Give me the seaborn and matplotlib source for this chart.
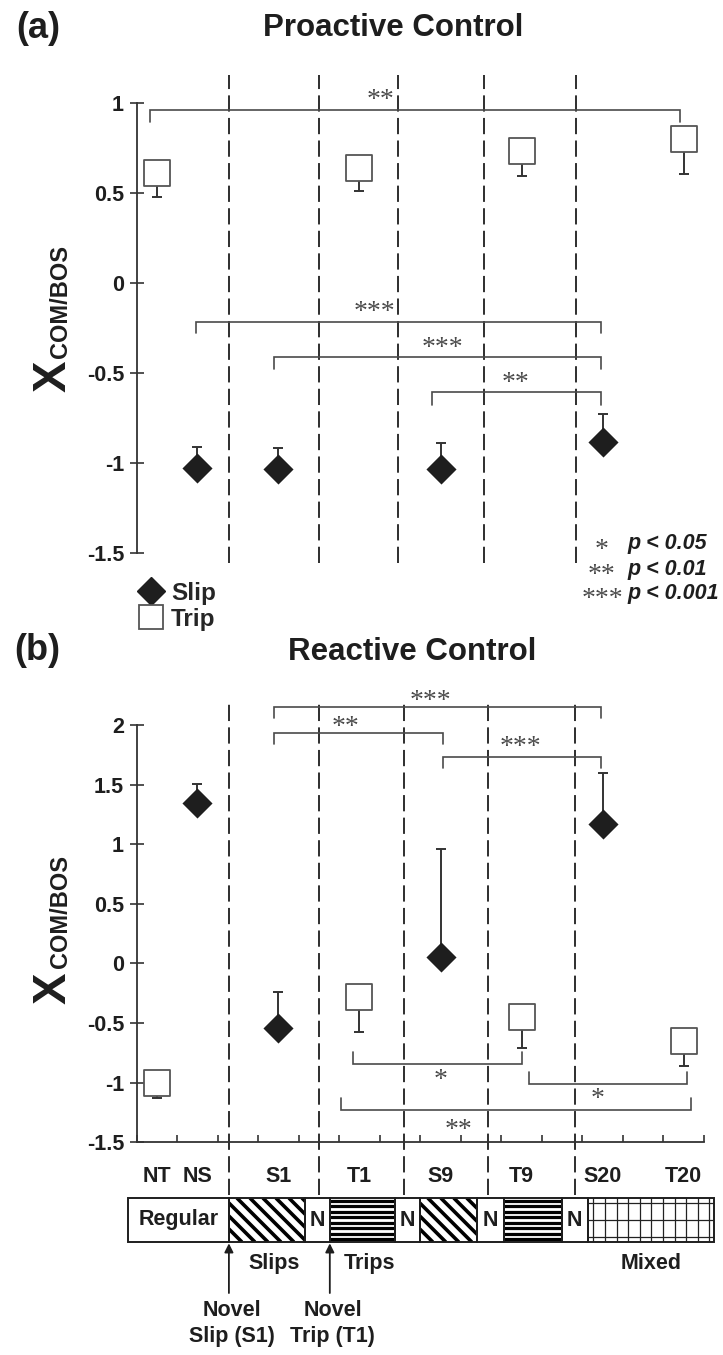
import numpy as np
import pandas as pd
import matplotlib
matplotlib.use("Agg")
import matplotlib.pyplot as plt
import seaborn as sns
from matplotlib.patches import Rectangle
from matplotlib.lines import Line2D

# ---------------------------------------------------------------- data
conditions = ["NT", "NS", "S1", "T1", "S9", "T9", "S20", "T20"]
cond_pos = [0.5, 1.5, 3.5, 5.5, 7.5, 9.5, 11.5, 13.5]
pos_of = dict(zip(conditions, cond_pos))

trip_cond = ["NT", "T1", "T9", "T20"]
slip_cond = ["NS", "S1", "S9", "S20"]

# (a) proactive control: mean and one-sided SD
pro_trip_mean = [0.613, 0.640, 0.736, 0.804]
pro_trip_err = [0.133, 0.126, 0.140, 0.195]
pro_slip_mean = [-1.026, -1.033, -1.033, -0.883]
pro_slip_err = [0.118, 0.116, 0.143, 0.157]

# (b) reactive control
rea_trip_mean = [-1.000, -0.283, -0.453, -0.648]
rea_trip_err = [0.131, 0.289, 0.258, 0.209]
rea_slip_mean = [1.349, -0.543, 0.057, 1.167]
rea_slip_err = [0.159, 0.301, 0.906, 0.428]

yticks_a = [-1.5, -1, -0.5, 0, 0.5, 1]
yticks_b = [-1.5, -1, -0.5, 0, 0.5, 1, 1.5, 2]

# block boundaries between conditions (x units)
sep_a = [2.28, 4.50, 6.45, 8.57, 10.84]
sep_b = [2.28, 4.50, 6.60, 8.67, 10.81]

# significance brackets: left, right, bar level, leg length, stars, star x, star y
brackets_a = [
    (0.33, 13.42, 0.963, -0.066, "**", 6.01, 0.978),
    (1.47, 11.46, -0.213, -0.065, "***", 5.86, -0.200),
    (3.40, 11.46, -0.408, -0.070, "***", 7.55, -0.398),
    (7.28, 11.46, -0.606, -0.070, "**", 9.34, -0.594),
]
brackets_b = [
    (3.40, 11.46, 2.154, -0.097, "***", 7.26, 2.142),
    (3.40, 7.57, 1.936, -0.098, "**", 5.16, 1.926),
    (7.57, 11.46, 1.734, -0.097, "***", 9.48, 1.760),
    (5.34, 9.52, -0.840, 0.100, "*", 7.49, -1.035),
    (9.68, 13.59, -1.011, 0.104, "*", 11.38, -1.197),
    (5.05, 13.68, -1.231, 0.100, "**", 7.95, -1.457),
]

# protocol bar under panel (b)
block_edges = [-0.21, 2.28, 4.16, 4.77, 6.38, 6.99, 8.39, 9.07, 10.49, 11.14, 14.25]
block_kind = ["Regular", "slip", "N", "trip", "N", "slip", "N", "trip", "N", "mixed"]

# ---------------------------------------------------------------- style
sns.set_theme(style="ticks")
plt.rcParams["font.family"] = ["Liberation Sans", "DejaVu Sans"]
plt.rcParams["font.weight"] = "bold"
plt.rcParams["axes.linewidth"] = 1.3

DARK = "#1e1e1e"
LINE = "#333333"
GREY = "#4a4a4a"
SERIF = ["Liberation Serif", "DejaVu Serif"]
STAR_SIZE = 20

W, H = 723, 1355
fig = plt.figure(figsize=(W / 100, H / 100), dpi=100)
fig.patch.set_facecolor("white")


def fx(px):
    return px / W


def fy(py):
    return 1 - py / H


def frame(top, bottom):
    return [fx(136.5), fy(bottom), (704 - 136.5) / W, (bottom - top) / H]


ax_a = fig.add_axes(frame(75, 563))
ax_b = fig.add_axes(frame(703, 1142.3))


def panel(ax, trip_mean, trip_err, slip_mean, slip_err, brackets):
    trips = pd.DataFrame({"cond": trip_cond, "mean": trip_mean, "err": trip_err})
    slips = pd.DataFrame({"cond": slip_cond, "mean": slip_mean, "err": slip_err})
    trips["x"] = trips["cond"].map(pos_of)
    slips["x"] = slips["cond"].map(pos_of)

    ax.errorbar(trips["x"], trips["mean"], yerr=[trips["err"], np.zeros(len(trips))],
                fmt="none", ecolor=LINE, elinewidth=1.4, capsize=3.3, capthick=1.4, zorder=3)
    ax.errorbar(slips["x"], slips["mean"], yerr=[np.zeros(len(slips)), slips["err"]],
                fmt="none", ecolor=LINE, elinewidth=1.4, capsize=3.3, capthick=1.4, zorder=3)

    sns.scatterplot(data=trips, x="x", y="mean", marker="s", s=355, color="white",
                    edgecolor="#555555", linewidth=1.3, ax=ax, zorder=5, legend=False)
    sns.scatterplot(data=slips, x="x", y="mean", marker="D", s=235, color=DARK,
                    edgecolor=DARK, linewidth=0, ax=ax, zorder=5, legend=False)

    for x0, x1, yb, leg, stars, sx, sy in brackets:
        ax.plot([x0, x0, x1, x1], [yb + leg, yb, yb, yb + leg], color=GREY, lw=1.2,
                zorder=2, clip_on=False, solid_joinstyle="miter")
        ax.text(sx, sy, stars, family=SERIF, fontweight="normal", fontsize=STAR_SIZE,
                color=GREY, ha="center", va="baseline", zorder=6)

    ax.set_xlim(0, 14)
    ax.set_xlabel("")
    ax.set_ylabel("")
    for side in ("top", "right"):
        ax.spines[side].set_visible(False)
    ax.spines["left"].set_color(LINE)
    ax.spines["bottom"].set_color(LINE)
    ax.tick_params(axis="y", direction="inout", length=10, width=1.2, color=LINE,
                   pad=4, labelsize=15.5, labelcolor=DARK)


# ---- (a)
panel(ax_a, pro_trip_mean, pro_trip_err, pro_slip_mean, pro_slip_err, brackets_a)
ax_a.set_ylim(-1.554, 1.157)
ax_a.spines["left"].set_bounds(-1.5, 1)
ax_a.spines["bottom"].set_visible(False)
ax_a.set_yticks(yticks_a, [f"{v:g}" for v in yticks_a])
ax_a.set_xticks([])
for x in sep_a:
    ax_a.axvline(x, color=DARK, lw=1.3, ls=(0, (9, 3.5)), zorder=1)

# ---- (b)
panel(ax_b, rea_trip_mean, rea_trip_err, rea_slip_mean, rea_slip_err, brackets_b)
ax_b.set_ylim(-1.5, 2.184)
ax_b.spines["left"].set_bounds(-1.5, 2)
ax_b.set_yticks(yticks_b, [f"{v:g}" for v in yticks_b])
ax_b.set_xticks(np.arange(0, 15), [""] * 15)
ax_b.set_xticks(cond_pos, conditions, minor=True)
ax_b.tick_params(axis="x", which="major", direction="in", length=5, width=1.2, color=LINE)
ax_b.tick_params(axis="x", which="minor", length=0, pad=17, labelsize=15.5, labelcolor=DARK)
for x in sep_b:
    ax_b.axvline(x, ymin=-0.12, ymax=1, color=DARK, lw=1.3, ls=(0, (9, 3.5)),
                 zorder=1, clip_on=False)

# ---- titles, panel letters, axis titles
fig.text(fx(38), fy(29), "(a)", fontsize=26, ha="center", va="center", color=DARK)
fig.text(fx(393), fy(28), "Proactive Control", fontsize=22.5, ha="center", va="center", color=DARK)
fig.text(fx(37), fy(651), "(b)", fontsize=26, ha="center", va="center", color=DARK)
fig.text(fx(412), fy(652), "Reactive Control", fontsize=22.5, ha="center", va="center", color=DARK)
for xc, cc in ((376, 301), (988, 912)):
    fig.text(fx(54), fy(xc), "X", fontsize=34, rotation=90, ha="center", va="center", color=DARK)
    fig.text(fx(60), fy(cc), "COM/BOS", fontsize=17, rotation=90, ha="center", va="center", color=DARK)

# ---- significance key
for py, stars, ptxt in ((544, "*", "p < 0.05"), (569, "**", "p < 0.01"), (593, "***", "p < 0.001")):
    fig.text(fx(602), fy(py + 13), stars, family=SERIF, fontweight="normal", fontsize=STAR_SIZE,
             color=GREY, ha="center", va="baseline")
    fig.text(fx(627), fy(py), ptxt, fontsize=15.5, style="italic", ha="left", va="center",
             color=DARK)

# ---- marker legend
handles = [
    Line2D([], [], marker="D", ls="none", color=DARK, ms=14),
    Line2D([], [], marker="s", ls="none", mfc="white", mec="#555555", mew=1.3, ms=17),
]
fig.legend(handles, ["Slip", "Trip"], loc="upper left", bbox_to_anchor=(fx(138), fy(582)),
           frameon=False, prop={"size": 17.5, "weight": "bold"}, handlelength=1.1,
           handletextpad=0.25, labelspacing=0.12, borderpad=0, borderaxespad=0)

# ---- protocol bar
ax_k = fig.add_axes([fx(128), fy(1242), (714 - 128) / W, 44 / H])
ax_k.set_xlim(block_edges[0], block_edges[-1])
ax_k.set_ylim(0, 1)
ax_k.axis("off")
sx = (714 - 128) / (block_edges[-1] - block_edges[0])  # px per x unit
sy = 44.0                                                # px per y unit

for x0, x1, kind in zip(block_edges[:-1], block_edges[1:], block_kind):
    rect = Rectangle((x0, 0), x1 - x0, 1, facecolor="white", edgecolor="none")
    ax_k.add_patch(rect)
    if kind == "slip":
        step = 13.0 / sx
        for s in np.arange(x0 - sy / sx, x1 + step, step):
            ln, = ax_k.plot([s, s + sy / sx], [1, 0], color="black", lw=2.6, solid_capstyle="butt")
            ln.set_clip_path(rect)
    elif kind == "trip":
        for yy in (np.arange(8) + 0.5) / 8:
            ln, = ax_k.plot([x0, x1], [yy, yy], color="black", lw=2.3, solid_capstyle="butt")
            ln.set_clip_path(rect)
    elif kind == "mixed":
        for xx in np.arange(x0 + 5.5 / sx, x1, 11.6 / sx):
            ln, = ax_k.plot([xx, xx], [0, 1], color="#222222", lw=0.9)
            ln.set_clip_path(rect)
        for yy in (0.12, 0.5, 0.88):
            ln, = ax_k.plot([x0, x1], [yy, yy], color="#222222", lw=0.9)
            ln.set_clip_path(rect)
    ax_k.add_patch(Rectangle((x0, 0), x1 - x0, 1, facecolor="none", edgecolor=DARK,
                             lw=1.4, clip_on=False, zorder=5))
    if kind in ("Regular", "N"):
        ax_k.text((x0 + x1) / 2, 0.5, kind, fontsize=15.5, ha="center", va="center", color=DARK)

for xa in (block_edges[1], block_edges[3]):
    ax_k.annotate("", xy=(xa, -0.03), xytext=(xa, -1.16), annotation_clip=False,
                  arrowprops=dict(arrowstyle="-|>", color=DARK, lw=1.3, mutation_scale=13,
                                  shrinkA=0, shrinkB=0))

ax_k.text((274.5 - 128) / sx + block_edges[0], -0.48, "Slips", fontsize=15.5, ha="center", va="center", color=DARK)
ax_k.text((370 - 128) / sx + block_edges[0], -0.48, "Trips", fontsize=15.5, ha="center", va="center", color=DARK)
ax_k.text((651 - 128) / sx + block_edges[0], -0.48, "Mixed", fontsize=15.5, ha="center", va="center", color=DARK)
ax_k.text(block_edges[1] + 0.07, -1.86, "Novel\nSlip (S1)", fontsize=15.5, ha="center", va="center",
          linespacing=1.3, color=DARK)
ax_k.text(block_edges[3] + 0.07, -1.86, "Novel\nTrip (T1)", fontsize=15.5, ha="center", va="center",
          linespacing=1.3, color=DARK)

fig.savefig("out.png", dpi=100, facecolor="white")
